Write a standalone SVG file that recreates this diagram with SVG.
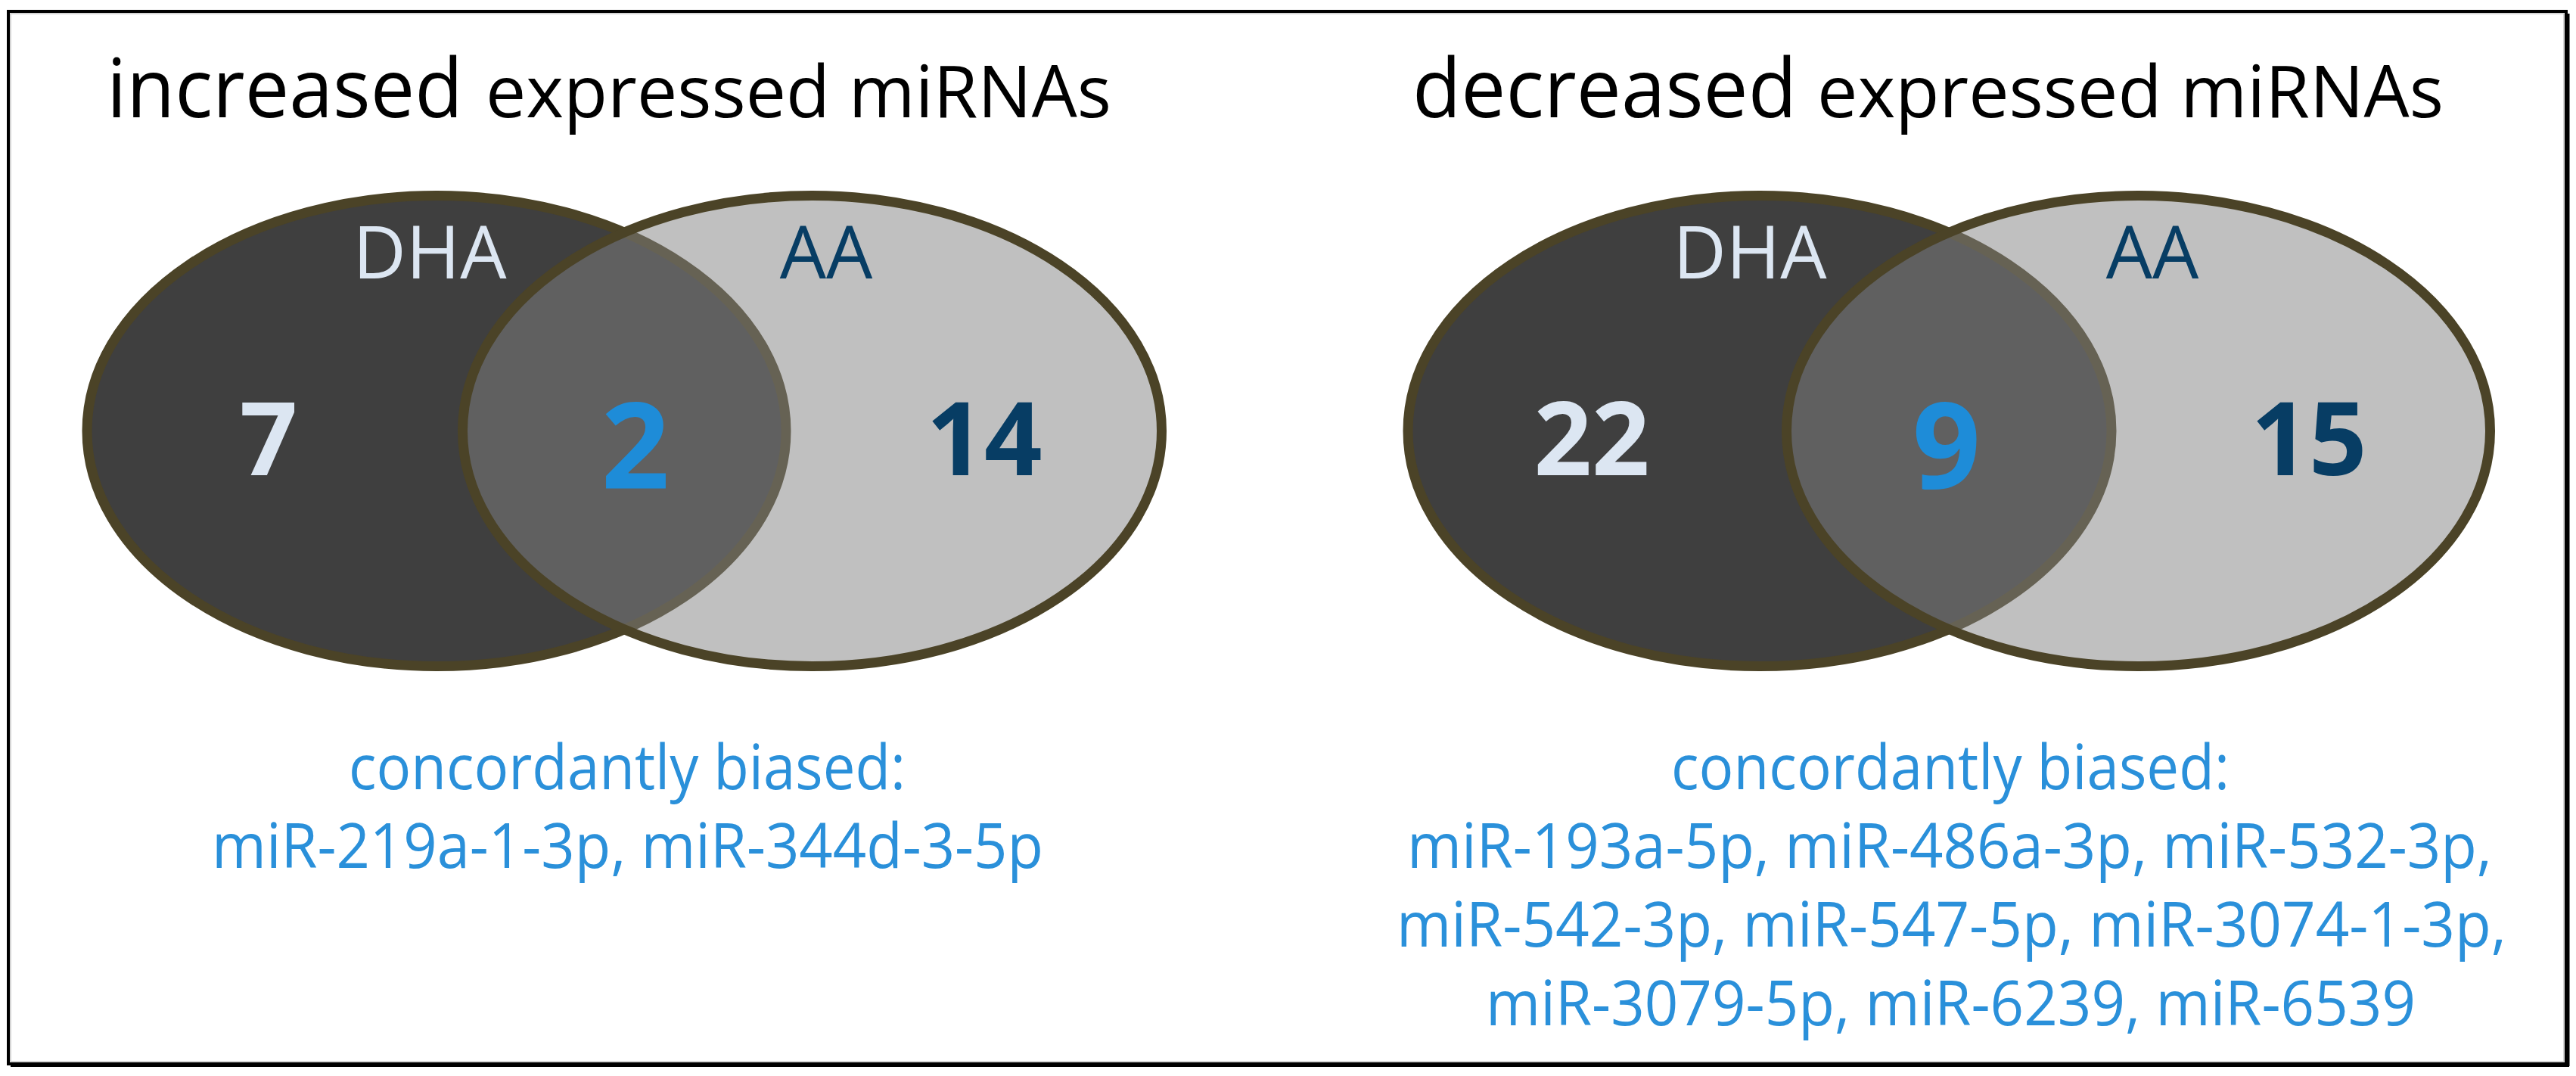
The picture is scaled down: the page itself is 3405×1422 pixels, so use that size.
<svg xmlns="http://www.w3.org/2000/svg" width="3405" height="1422" viewBox="0 0 3405 1422">
<style>
.frame{fill:#ffffff;stroke:#000000;stroke-width:4}
.setA{fill:#3f3f3f;stroke:#4b4327;stroke-width:13}
.setB{fill:#818181;fill-opacity:0.5;stroke:#4b4327;stroke-width:13}
.t{font-family:"Open Sans","Noto Sans","Liberation Sans",sans-serif}
.title{font-size:108px;fill:#000000}
.title2{font-size:95px;fill:#000000}
.lab{font-size:97px;text-anchor:middle}
.num{font-size:134px;font-weight:700;text-anchor:middle}
.mid{font-size:158px;font-weight:700;text-anchor:middle;fill:#1e8cd8}
.light{fill:#dce6f2}
.dark{fill:#073d64}
.list{font-size:82px;fill:#2a90da}
</style>
<rect width="3405" height="1422" fill="#ffffff"/>
<g id="frame">
<rect class="frame" x="11" y="15" width="3381" height="1391"/>
<line x1="3395" y1="18" x2="3395" y2="1409" stroke="#000" stroke-width="3"/>
<line x1="14" y1="1408.5" x2="3396" y2="1408.5" stroke="#000" stroke-width="3"/>
<rect x="14" y="18" width="3375" height="1385" fill="none" stroke="#c8c8c8" stroke-width="1.5"/>
</g>
<g id="connectors"></g>
<g id="increased">
<text class="t title" x="141" y="155" textLength="471" lengthAdjust="spacingAndGlyphs">increased</text>
<text class="t title2" x="642" y="155" textLength="827" lengthAdjust="spacingAndGlyphs">expressed miRNAs</text>
<g id="inc-DHA"><ellipse class="setA" cx="577" cy="569.5" rx="462" ry="311"/></g>
<g id="inc-AA"><ellipse class="setB" cx="1073.5" cy="569.5" rx="462" ry="311"/></g>
<text class="t lab light" x="568" y="368">DHA</text>
<text class="t lab dark" x="1092" y="368">AA</text>
<text class="t num light" x="355" y="628">7</text>
<text class="t mid" x="840" y="646">2</text>
<text class="t num dark" x="1301" y="628">14</text>
<g id="inc-list">
<text class="t list" x="461" y="1043" textLength="736" lengthAdjust="spacingAndGlyphs">concordantly biased:</text>
<text class="t list" x="280" y="1147" textLength="1099" lengthAdjust="spacingAndGlyphs">miR-219a-1-3p, miR-344d-3-5p</text>
</g>
</g>
<g id="decreased">
<text class="t title" x="1867" y="155" textLength="508" lengthAdjust="spacingAndGlyphs">decreased</text>
<text class="t title2" x="2402" y="155" textLength="828" lengthAdjust="spacingAndGlyphs">expressed miRNAs</text>
<g id="dec-DHA"><ellipse class="setA" cx="2326" cy="569.5" rx="465" ry="311"/></g>
<g id="dec-AA"><ellipse class="setB" cx="2826.5" cy="569.5" rx="465" ry="311"/></g>
<text class="t lab light" x="2313" y="368">DHA</text>
<text class="t lab dark" x="2845" y="368">AA</text>
<text class="t num light" x="2104" y="628">22</text>
<text class="t mid" x="2573" y="646">9</text>
<text class="t num dark" x="3052" y="628">15</text>
<g id="dec-list">
<text class="t list" x="2209" y="1043" textLength="738" lengthAdjust="spacingAndGlyphs">concordantly biased:</text>
<text class="t list" x="1860" y="1147" textLength="1434" lengthAdjust="spacingAndGlyphs">miR-193a-5p, miR-486a-3p, miR-532-3p,</text>
<text class="t list" x="1846" y="1251" textLength="1467" lengthAdjust="spacingAndGlyphs">miR-542-3p, miR-547-5p, miR-3074-1-3p,</text>
<text class="t list" x="1964" y="1355" textLength="1229" lengthAdjust="spacingAndGlyphs">miR-3079-5p, miR-6239, miR-6539</text>
</g>
</g>
</svg>
